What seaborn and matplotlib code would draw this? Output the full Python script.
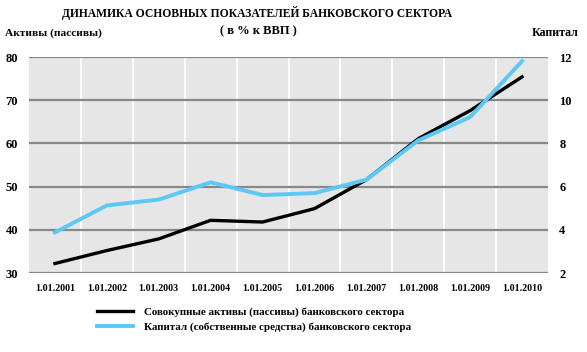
import seaborn as sns
import matplotlib.pyplot as plt
import pandas as pd

# data
dates = ["1.01.2001", "1.01.2002", "1.01.2003", "1.01.2004", "1.01.2005",
         "1.01.2006", "1.01.2007", "1.01.2008", "1.01.2009", "1.01.2010"]
assets = [32.2, 35.2, 37.9, 42.2, 41.8, 44.9, 51.6, 61.1, 67.6, 75.4]
capital = [3.88, 5.13, 5.40, 6.20, 5.61, 5.70, 6.32, 8.14, 9.22, 11.81]

assets_label = "Совокупные активы (пассивы) банковского сектора"
capital_label = "Капитал (собственные средства) банковского сектора"

df = pd.DataFrame({"date": dates, "x": range(len(dates)),
                   "assets": assets, "capital": capital})

plt.rcParams["font.family"] = ["Liberation Serif", "DejaVu Serif"]
plt.rcParams["font.weight"] = "bold"

fig = plt.figure(figsize=(5.87, 3.52), dpi=100)
ax = fig.add_axes([0.0494, 0.2244, 0.8842, 0.6136])
ax.set_facecolor("#e6e6e6")
ax2 = ax.twinx()

sns.lineplot(data=df, x="x", y="assets", ax=ax, color="black", linewidth=2.4,
             label=assets_label, legend=False)
sns.lineplot(data=df, x="x", y="capital", ax=ax2, color="#5bc8f5", linewidth=2.8,
             label=capital_label, legend=False)

ax.set_xlim(-0.5, len(dates) - 0.5)
ax.set_ylim(30, 80)
ax2.set_ylim(2, 12)
ax.set_yticks(range(30, 81, 10))
ax2.set_yticks(range(2, 13, 2))
ax.set_xticks(range(len(dates)))
ax.set_xticklabels(dates, fontsize=7.2)
ax.tick_params(axis="y", labelsize=9, length=0, pad=8)
ax2.tick_params(axis="y", labelsize=9, length=0, pad=8)
ax.tick_params(axis="x", length=0, pad=8)
ax.set_xlabel("")
ax.set_ylabel("")
ax2.set_ylabel("")

# gridlines: white verticals between categories, gray horizontals
for b in range(len(dates) - 1):
    ax.axvline(b + 0.5, color="white", linewidth=1.3, zorder=0.5)
for v in range(30, 81, 10):
    ax.axhline(v, color="#888888", linewidth=1.6, zorder=0.6)

for a in (ax, ax2):
    for s in a.spines.values():
        s.set_visible(False)

fig.text(0.438, 0.963, "ДИНАМИКА ОСНОВНЫХ ПОКАЗАТЕЛЕЙ БАНКОВСКОГО СЕКТОРА",
         ha="center", va="center", fontsize=8.4)
fig.text(0.44, 0.91, "( в % к ВВП )", ha="center", va="center", fontsize=9)
fig.text(0.008, 0.905, "Активы (пассивы)", ha="left", va="center", fontsize=8.2)
fig.text(0.985, 0.905, "Капитал", ha="right", va="center", fontsize=8.6)

handles = ax.get_lines()[:1] + ax2.get_lines()[:1]
fig.legend(handles, [assets_label, capital_label], loc="upper left",
           bbox_to_anchor=(0.165, 0.128), frameon=False, fontsize=7.9,
           handlelength=3.3, handletextpad=1.0, labelspacing=0.5,
           borderaxespad=0, borderpad=0)

plt.savefig("out.png", dpi=100)
